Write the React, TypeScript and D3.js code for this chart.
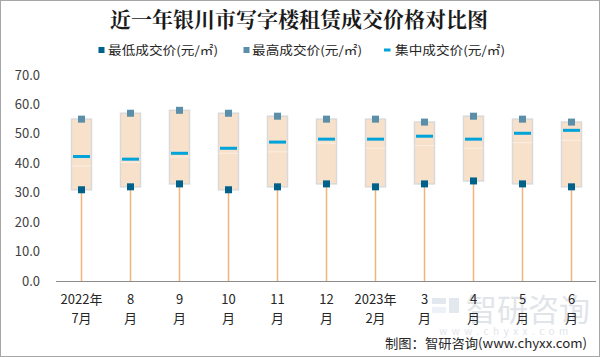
import React from "react";
import * as d3 from "d3";

const categories = ["2022年|7月", "8|月", "9|月", "10|月", "11|月", "12|月", "2023年|2月", "3|月", "4|月", "5|月", "6|月"];
const minValues = [31, 32, 33, 31, 32, 33, 32, 33, 34, 33, 32];
const maxValues = [55, 57, 58, 57, 56, 55, 55, 54, 56, 55, 54];
const medianValues = [42.3, 41.4, 43.4, 45.1, 47.2, 48.2, 48.2, 49.2, 48.2, 50.2, 51.2];
const splitValues = [39.1, 40.3, 42.2, 43.4, 43.9, 46.8, 45.1, 46.0, 45.1, 47.0, 47.8];
const yTicks = [0, 10, 20, 30, 40, 50, 60, 70];
const legendLabels = ["最低成交价(元/㎡)", "最高成交价(元/㎡)", "集中成交价(元/㎡)"];

const W = 600, H = 357;
const COL_MIN = "#00628B";
const COL_MAX = "#5B8EA9";
const COL_MED = "#00A3DA";
const COL_BOX = "#F8E1CB";
const COL_STEM = "#F0B47A";
const FONT = "'Noto Sans CJK SC', 'Noto Sans', sans-serif";

export default function App() {
  const x = d3.scaleBand<string>().domain(categories).range([57, 596]).padding(0);
  const y = d3.scaleLinear().domain([0, 70]).range([281, 75]);
  const bw = x.bandwidth();
  const boxW = 20;
  const mk = 7;

  return (
    <svg width={W} height={H} style={{ position: "absolute", left: 0, top: 0, background: "#fff" }} fontFamily={FONT}>
      <rect x={0.5} y={0.5} width={W - 1} height={H - 1} fill="#fff" stroke="#A6A6A6" />
      {/* watermark */}
      <g opacity={0.5}>
        <rect x={432} y={298} width={14} height={6} fill="#C9D3E0" />
        <rect x={432} y={307} width={14} height={6} fill="#DCE6F2" />
        <rect x={449} y={298} width={10} height={15} fill="#C9D3E0" />
        <text x={528} y={321} textAnchor="middle" fontSize={31} fill="#C5CBD3">智研咨询</text>
        <text x={506} y={335} textAnchor="middle" fontSize={10} fill="#C5CBD3" letterSpacing={4.5}>www.chyxx.com</text>
      </g>
      <text x={299} y={27} textAnchor="middle" fontSize={21} fontWeight="bold" fill="#1a1a1a" fontFamily="'Noto Serif CJK SC', 'Noto Sans CJK SC', serif">近一年银川市写字楼租赁成交价格对比图</text>
      {/* legend */}
      <g fontSize={12} fill="#262626">
        <rect x={98.5} y={47} width={6} height={6} fill={COL_MIN} />
        <text x={108} y={54.5} textLength={110} lengthAdjust="spacingAndGlyphs">{legendLabels[0]}</text>
        <rect x={243.5} y={47} width={6} height={6} fill={COL_MAX} />
        <text x={252} y={54.5} textLength={110} lengthAdjust="spacingAndGlyphs">{legendLabels[1]}</text>
        <rect x={384} y={48.5} width={6.5} height={3} fill={COL_MED} />
        <text x={395} y={54.5} textLength={110} lengthAdjust="spacingAndGlyphs">{legendLabels[2]}</text>
      </g>
      {/* y axis labels */}
      <g fontSize={13} fill="#404040">
        {yTicks.map((t) => (
          <text key={t} x={40} y={y(t) + 4.5} textAnchor="end">{t.toFixed(1)}</text>
        ))}
      </g>
      {/* baseline */}
      <line x1={56} x2={596} y1={y(0) + 0.5} y2={y(0) + 0.5} stroke="#8C8C8C" strokeWidth={1} />
      {/* boxes */}
      {categories.map((c, i) => {
        const cx = (x(c) as number) + bw / 2;
        return (
          <g key={c}>
            <rect x={cx - boxW / 2} y={y(maxValues[i])} width={boxW} height={y(minValues[i]) - y(maxValues[i])} fill={COL_BOX} stroke="#D9D9D9" strokeWidth={1.5} />
            <line x1={cx - boxW / 2} x2={cx + boxW / 2} y1={y(splitValues[i])} y2={y(splitValues[i])} stroke="#ffffff" strokeOpacity={0.45} strokeWidth={1} />
            <rect x={cx - 8.5} y={y(medianValues[i]) - 1.5} width={17} height={3} fill={COL_MED} />
            <line x1={cx} x2={cx} y1={y(0)} y2={y(minValues[i])} stroke={COL_STEM} strokeWidth={1.5} />
            <rect x={cx - mk / 2} y={y(maxValues[i]) - mk / 2} width={mk} height={mk} fill={COL_MAX} />
            <rect x={cx - mk / 2} y={y(minValues[i]) - mk / 2} width={mk} height={mk} fill={COL_MIN} />
          </g>
        );
      })}
      {/* x labels */}
      <g fontSize={13} fill="#262626" textAnchor="middle">
        {categories.map((c) => {
          const cx = (x(c) as number) + bw / 2;
          const [l1, l2] = c.split("|");
          return (
            <g key={c}>
              <text x={cx} y={304}>{l1}</text>
              <text x={cx} y={323}>{l2}</text>
            </g>
          );
        })}
      </g>
      <text x={587} y={348} textAnchor="end" fontSize={13} fill="#262626" textLength={202} lengthAdjust="spacingAndGlyphs">制图：智研咨询(www.chyxx.com)</text>
    </svg>
  );
}
